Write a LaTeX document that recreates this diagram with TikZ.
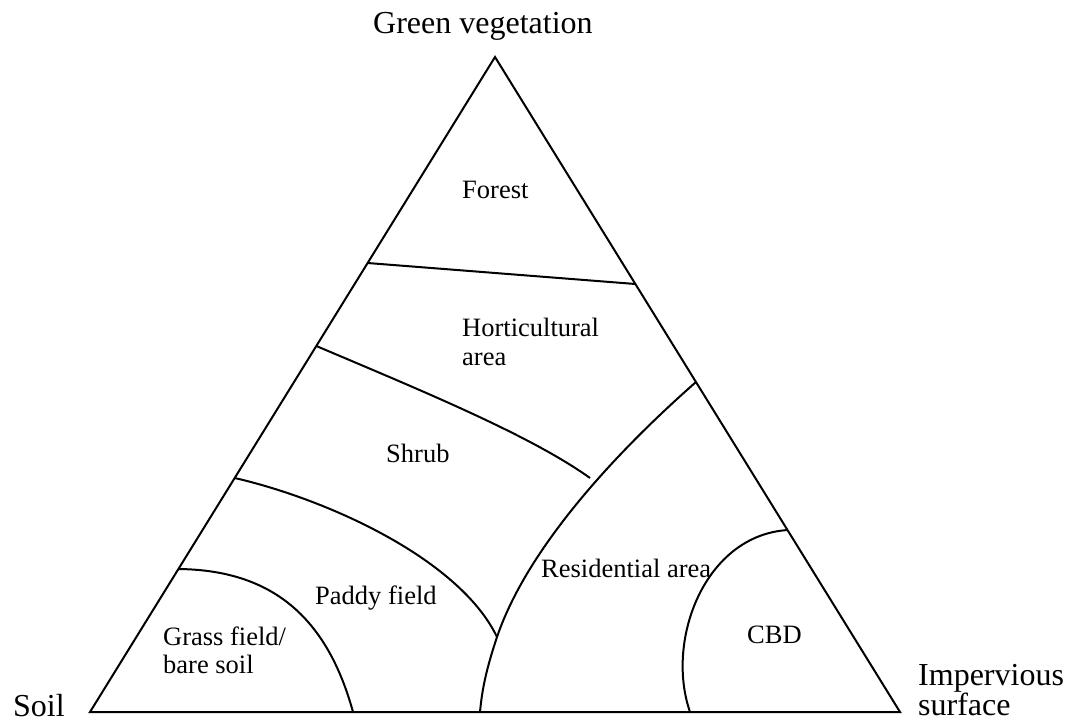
\documentclass[tikz,border=0pt]{standalone}
\usepackage{fontspec}
\setmainfont{Liberation Serif}
\begin{document}
\begin{tikzpicture}[x=1pt,y=-1pt,
  edge/.style={line width=2pt,line join=miter},
  border/.style={line width=2pt},
  corner/.style={inner sep=0pt,anchor=base west,font=\fontsize{32}{34}\selectfont},
  region/.style={inner sep=0pt,anchor=base west,font=\fontsize{26.5}{29}\selectfont}]
  \useasboundingbox (0,0) rectangle (1075,722);

  % triangle corners
  \coordinate (top) at (495,57);
  \coordinate (soil) at (90,712);
  \coordinate (imp) at (900,712);
  \draw[edge] (top) -- (soil) -- (imp) -- cycle;

  % points where boundaries meet the sides or each other
  \coordinate (fl) at (367.6,263);
  \coordinate (fr) at (635.4,284);
  \coordinate (hl) at (316.3,346);
  \coordinate (rt) at (696,382);
  \coordinate (j1) at (590,478);
  \coordinate (pl) at (234.7,478);
  \coordinate (j2) at (497,637);
  \coordinate (rb) at (480,712);
  \coordinate (gl) at (178.4,569);
  \coordinate (gb) at (353,712);
  \coordinate (ct) at (788,530);
  \coordinate (cb) at (690,712);

  % forest / horticultural area
  \draw[border] (fl) -- (fr);
  % horticultural area / shrub
  \draw[border] (hl) .. controls (420,390) and (530,435) .. (j1);
  % residential area
  \draw[border] (rt) .. controls (630,440) and (530,540) .. (j2)
                     .. controls (486,670) and (482,690) .. (rb);
  % shrub / paddy field
  \draw[border] (pl) .. controls (330,500) and (460,560) .. (j2);
  % grass field / bare soil
  \draw[border] (gl) .. controls (265,570) and (325,610) .. (gb);
  % CBD
  \draw[border] (ct) .. controls (705,535) and (665,640) .. (cb);

  % corner labels
  \node[corner] (lveg) at (373,34) {Green vegetation};
  \node[corner] (lsoil) at (13,716) {Soil};
  \node[corner] (limp1) at (918,685) {Impervious};
  \node[corner] (limp2) at (918,715) {surface};

  % region labels
  \node[region] (lforest) at (462,198) {Forest};
  \node[region] (lhort1) at (462,336) {Horticultural};
  \node[region] (lhort2) at (462,365) {area};
  \node[region] (lshrub) at (386,462) {Shrub};
  \node[region] (lpaddy) at (315,604) {Paddy field};
  \node[region] (lgrass1) at (163,645) {Grass field/};
  \node[region] (lgrass2) at (163,673) {bare soil};
  \node[region] (lres) at (541,577) {Residential area};
  \node[region] (lcbd) at (747,643) {CBD};
\end{tikzpicture}
\end{document}
